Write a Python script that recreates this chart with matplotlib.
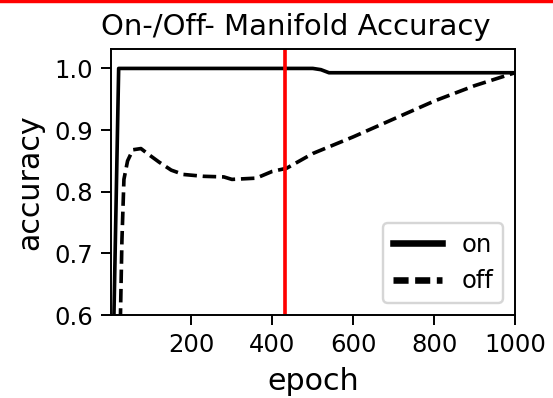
import matplotlib
matplotlib.use("Agg")
import matplotlib.pyplot as plt

# accuracy, per epoch
on_epochs = [1, 20, 500, 520, 540, 1000]
on_acc = [0.35, 1.0, 1.0, 0.998, 0.993, 0.993]

off_epochs = [1, 20, 28, 33, 42, 55, 75, 95, 120, 150, 180, 230, 280, 300,
              360, 400, 435, 500, 600, 700, 800, 900, 1000]
off_acc = [0.1, 0.45, 0.72, 0.82, 0.85, 0.868, 0.870, 0.86, 0.848, 0.835,
           0.828, 0.825, 0.824, 0.820, 0.822, 0.833, 0.838, 0.862, 0.889,
           0.918, 0.947, 0.972, 0.993]

marker_epoch = 432
xticks = [200, 400, 600, 800, 1000]
yticks = [0.6, 0.7, 0.8, 0.9, 1.0]

dpi = 175
fig = plt.figure(figsize=(553 / dpi, 398 / dpi), dpi=dpi)
ax = fig.add_axes([0.2007, 0.2085, 0.7306, 0.6676])

ax.plot(on_epochs, on_acc, "k-", label="on")
ax.plot(off_epochs, off_acc, "k--", label="off")
ax.axvline(marker_epoch, color="red", linewidth=1.5)

ax.set_xlim(1, 1000)
ax.set_ylim(0.6, 1.031)
ax.set_xticks(xticks)
ax.set_yticks(yticks)
ax.tick_params(length=4)

ax.set_xlabel("epoch", fontsize=12.4)
ax.set_ylabel("accuracy", fontsize=12.4)
ax.set_title("On-/Off- Manifold Accuracy", x=0.458)

leg = ax.legend(loc="lower right")
# legend handles are drawn thicker than the plotted lines
for h in leg.get_lines():
    h.set_linewidth(2.7)
leg.get_lines()[1].set_linestyle((0, (2.3, 1.0)))

# red strip along the top edge of the screenshot
fig.add_artist(plt.Rectangle((0, 1 - 2.5 / 398), 1, 2.5 / 398,
                             transform=fig.transFigure, color="red"))

fig.savefig("out.png", dpi=dpi)
